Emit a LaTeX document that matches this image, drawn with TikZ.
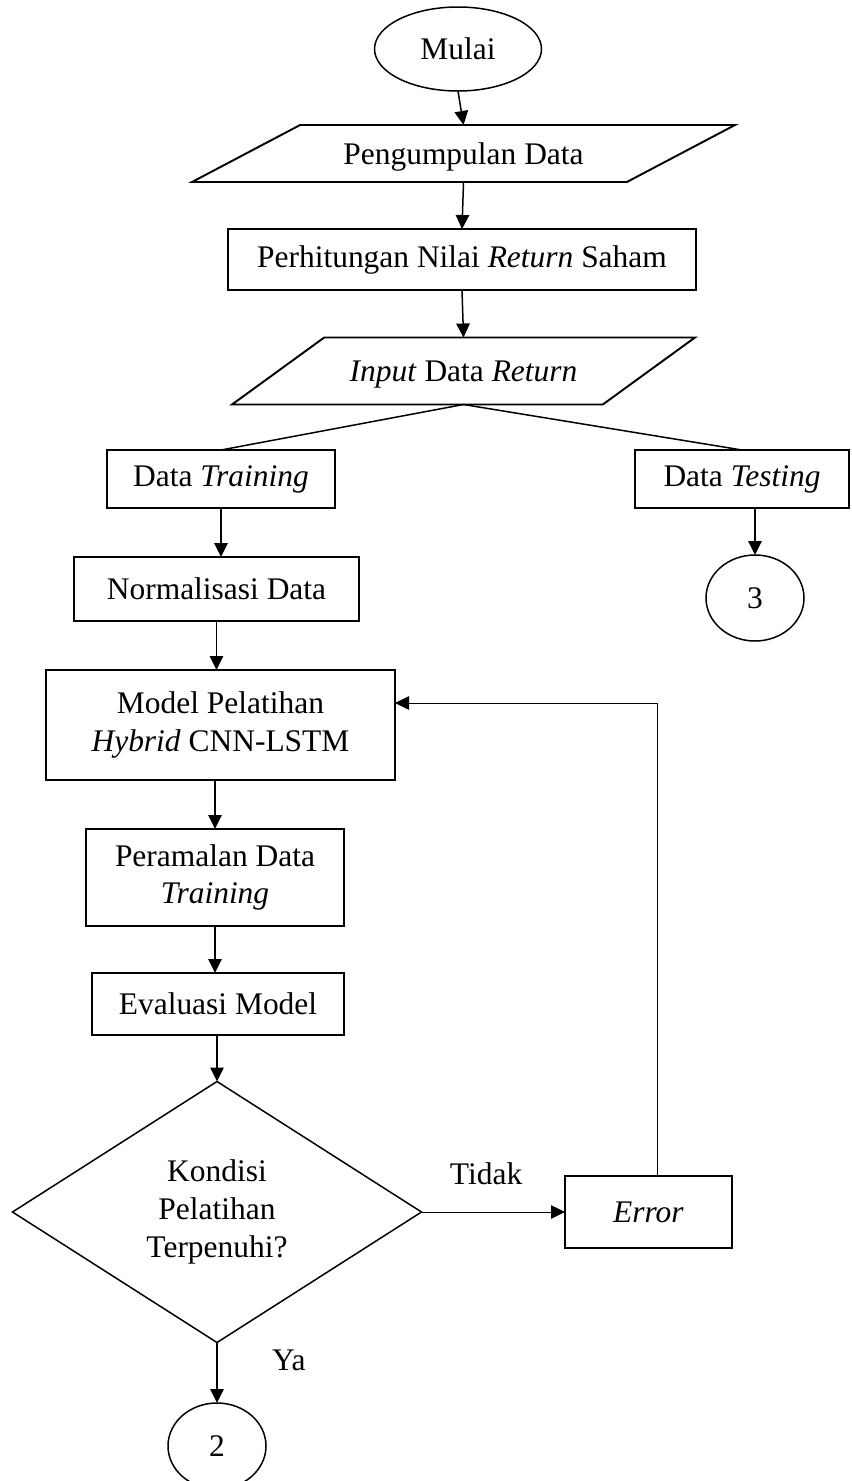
\documentclass[tikz,border=0pt]{standalone}
\usepackage{fontspec}
\setmainfont{Liberation Serif}
\usetikzlibrary{arrows.meta,shapes.geometric}
\tikzset{%
    >={Triangle[length=2.8mm,width=2.7mm]}, % filled heads
    inner sep=0pt,%
    outer sep=0pt,%
    proses/.style={rectangle, draw, line width=1.1pt, align=center},%
    terminal/.style={ellipse, draw, line width=0.85pt},%
    io/.style={trapezium, draw, line width=1.1pt, trapezium stretches body},%
    keputusan/.style={diamond, draw, line width=0.85pt, align=center, aspect=1.5},%
    alur/.style={->, line width=0.85pt},%
    alurtipis/.style={->, line width=0.45pt}%
    }

\begin{document}
\begin{tikzpicture}[x=0.2mm,y=-0.2mm,font=\fontsize{17.9pt}{21.5pt}\selectfont]
    \useasboundingbox (0,0) rectangle (851,1481);

    \node[terminal, minimum width=33.4mm, minimum height=16.8mm] (mulai) at (458,49) {Mulai};
    \node[io, trapezium left angle=27.8, trapezium right angle=152.2,
        text height=7.8mm, text depth=3.6mm, minimum width=108.6mm] (kumpul) at (463.5,153.5) {Pengumpulan Data};
    \node[proses, minimum width=93.6mm, minimum height=12.2mm] (hitung) at (462,259.5)
        {Perhitungan Nilai \textit{Return} Saham};
    \node[io, trapezium left angle=36, trapezium right angle=144,
        text height=8.8mm, text depth=4.6mm, minimum width=92.6mm] (input) at (463.5,371) {\textit{Input} Data \textit{Return}};

    \node[proses, minimum width=45.6mm, minimum height=11.6mm] (train) at (221,479) {Data \textit{Training}};
    \node[proses, minimum width=42.8mm, minimum height=11.6mm] (test) at (742,479) {Data \textit{Testing}};
    \node[terminal, minimum width=19.6mm, minimum height=17.2mm] (tiga) at (755,598) {3};

    \node[proses, minimum width=57mm, minimum height=12.8mm] (norm) at (216.5,589) {Normalisasi Data};
    \node[proses, minimum width=69.8mm, minimum height=22mm] (model) at (220.5,725)
        {Model Pelatihan\\\textit{Hybrid} CNN-LSTM};
    \node[proses, minimum width=51.6mm, minimum height=19.4mm] (ramal) at (215,877.5)
        {Peramalan Data\\\textit{Training}};
    \node[proses, minimum width=50.4mm, minimum height=12.4mm] (eval) at (218,1004) {Evaluasi Model};
    \node[keputusan, minimum width=81.8mm, minimum height=52.2mm] (kondisi) at (217,1212)
        {Kondisi\\Pelatihan\\Terpenuhi?};
    \node[proses, minimum width=33.4mm, minimum height=14.4mm] (error) at (648.5,1212) {\textit{Error}};
    \node[terminal, minimum width=19.6mm, minimum height=17.2mm] (dua) at (217,1446) {2};

    % alur utama
    \draw[alur] (mulai.south) -- (kumpul.north);
    \draw[alur] (kumpul.south) -- (hitung.north);
    \draw[alur] (hitung.south) -- (input.north);
    \draw[line width=0.85pt] (train.north) -- (input.south) -- (test.north);
    \draw[alur] (train.south) -- (train.south |- norm.north);
    \draw[alur] (tiga.north |- test.south) -- (tiga.north);
    \draw[alur] (norm.south) -- (norm.south |- model.north);
    \draw[alur] (ramal.north |- model.south) -- (ramal.north);
    \draw[alur] (ramal.south) -- (ramal.south |- eval.north);
    \draw[alur] (kondisi.north |- eval.south) -- (kondisi.north);
    \draw[alur] (kondisi.south) -- node[pos=0.3, right=11mm]{Ya} (dua.north);
    \draw[alurtipis] (kondisi.east) -- node[pos=0.45, above=5.5mm]{Tidak} (error.west);
    \draw[alurtipis] ([xshift=1.7mm]error.north) |- ([yshift=4.4mm]model.east);
\end{tikzpicture}
\end{document}
